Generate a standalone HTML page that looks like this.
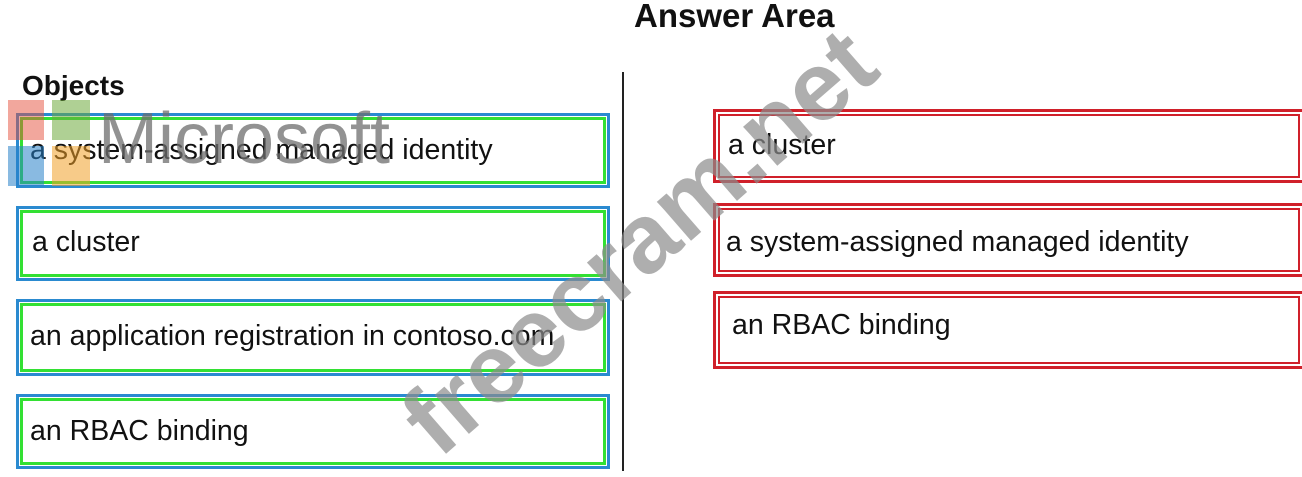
<!DOCTYPE html>
<html><head><style>
body{margin:0;width:1302px;height:471px;background:#fff;position:relative;overflow:hidden;font-family:"Liberation Sans",sans-serif;}
.t{position:absolute;font-size:28.5px;color:#111;white-space:nowrap}
.lb{position:absolute;border:3px solid #2a8ad0;box-sizing:border-box}
.lb::after{content:"";position:absolute;left:1px;top:1px;right:1px;bottom:1px;border:3px solid #33e033}
.rb{position:absolute;border:3px solid #d0202a;box-sizing:border-box}
.rb::after{content:"";position:absolute;left:2px;top:2px;right:2px;bottom:2px;border:2px solid #d0202a}
</style></head><body>
<div class="t" style="left:634px;top:-3px;font-weight:bold;font-size:33px">Answer Area</div>
<div class="t" style="left:22px;top:70px;font-weight:bold;font-size:28px">Objects</div>
<div style="position:absolute;left:622px;top:72px;width:2px;height:399px;background:#222"></div>

<div class="lb" style="left:16px;top:113px;width:594px;height:75px"></div>
<div class="lb" style="left:16px;top:206px;width:594px;height:75px"></div>
<div class="lb" style="left:16px;top:299px;width:594px;height:77px"></div>
<div class="lb" style="left:16px;top:394px;width:594px;height:75px"></div>
<div class="t" style="left:30px;top:134px">a system-assigned managed identity</div>
<div class="t" style="left:32px;top:226px">a cluster</div>
<div class="t" style="left:30px;top:320px">an application registration in contoso.com</div>
<div class="t" style="left:30px;top:415px">an RBAC binding</div>

<div class="rb" style="left:713px;top:109px;width:592px;height:74px"></div>
<div class="rb" style="left:713px;top:203px;width:592px;height:74px"></div>
<div class="rb" style="left:713px;top:291px;width:592px;height:78px"></div>
<div class="t" style="left:728px;top:129px">a cluster</div>
<div class="t" style="left:726px;top:226px">a system-assigned managed identity</div>
<div class="t" style="left:732px;top:309px">an RBAC binding</div>

<div style="position:absolute;left:8px;top:100px;width:36px;height:40px;background:rgba(230,80,60,.5)"></div>
<div style="position:absolute;left:52px;top:100px;width:38px;height:40px;background:rgba(110,170,60,.55)"></div>
<div style="position:absolute;left:8px;top:146px;width:36px;height:40px;background:rgba(40,130,200,.55)"></div>
<div style="position:absolute;left:52px;top:146px;width:38px;height:40px;background:rgba(240,160,40,.55)"></div>
<div class="t" style="left:98px;top:98px;font-size:72px;color:rgba(110,110,110,.75)">Microsoft</div>
<div class="t" style="left:345px;top:185px;font-size:98px;font-weight:bold;color:rgba(140,140,140,.7);transform:rotate(-41deg);transform-origin:center">freecram.net</div>
</body></html>
